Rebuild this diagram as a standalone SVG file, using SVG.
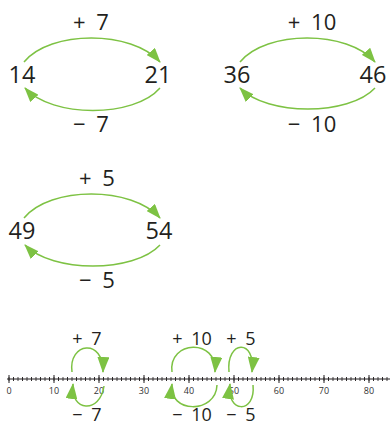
<svg xmlns="http://www.w3.org/2000/svg" width="390" height="426" viewBox="0 0 390 426">
<style>
.n{font-family:"Open Sans","Liberation Sans",sans-serif;font-size:23.5px;fill:#231f20;text-anchor:middle}
.op{font-family:"Open Sans","Liberation Sans",sans-serif;font-size:22px;fill:#231f20;text-anchor:middle;word-spacing:5px}
.sop{font-family:"Open Sans","Liberation Sans",sans-serif;font-size:18px;fill:#231f20;text-anchor:middle;word-spacing:4px}
.t{font-family:"Open Sans","Liberation Sans",sans-serif;font-size:9px;fill:#333;text-anchor:middle}
.a{fill:none;stroke:#7dc243;stroke-width:1.5}
</style>
<defs>
<marker id="ah" viewBox="0 0 15 11" refX="14" refY="5.5" markerWidth="15" markerHeight="11" markerUnits="userSpaceOnUse" orient="auto">
<path d="M0,0 L15,5.5 L0,11 Z" fill="#7dc243"/>
</marker>
<marker id="ahs" viewBox="0 0 16 12" refX="15" refY="6" markerWidth="16" markerHeight="12" markerUnits="userSpaceOnUse" orient="auto">
<path d="M0,0 L16,6 L0,12 Z" fill="#7dc243"/>
</marker>
<pattern id="minor" patternUnits="userSpaceOnUse" x="6.75" y="0" width="4.5" height="426">
<line x1="2.25" y1="377" x2="2.25" y2="381" stroke="#231f20" stroke-width="0.9"/>
</pattern>
<pattern id="major" patternUnits="userSpaceOnUse" x="-13.5" y="0" width="45" height="426">
<line x1="22.5" y1="375" x2="22.5" y2="383" stroke="#231f20" stroke-width="1"/>
</pattern>
</defs>

<g id="pair1">
<text class="op" x="91" y="30">+ 7</text>
<text class="n" x="22" y="83">14</text>
<text class="n" x="158" y="83">21</text>
<text class="op" x="91" y="132">− 7</text>
</g>
<g id="pair2">
<text class="op" x="312" y="30">+ 10</text>
<text class="n" x="237" y="83">36</text>
<text class="n" x="373" y="83">46</text>
<text class="op" x="312" y="132">− 10</text>
</g>
<g id="pair3">
<text class="op" x="97" y="186">+ 5</text>
<text class="n" x="22" y="239">49</text>
<text class="n" x="159" y="239">54</text>
<text class="op" x="97" y="288">− 5</text>
</g>

<g id="numberline">
<line x1="7" y1="379" x2="390" y2="379" stroke="#231f20" stroke-width="1"/>
<rect x="6.75" y="376" width="383" height="6" fill="url(#minor)"/>
<rect x="1" y="374" width="376" height="10" fill="url(#major)"/>
<text class="t" x="9" y="394">0</text>
<text class="t" x="54" y="394">10</text>
<text class="t" x="99" y="394">20</text>
<text class="t" x="144" y="394">30</text>
<text class="t" x="189" y="394">40</text>
<text class="t" x="234" y="394">50</text>
<text class="t" x="279" y="394">60</text>
<text class="t" x="324" y="394">70</text>
<text class="t" x="369" y="394">80</text>
<text class="sop" x="87" y="345">+ 7</text>
<text class="sop" x="87" y="421">− 7</text>
<text class="sop" x="192" y="345">+ 10</text>
<text class="sop" x="192" y="421">− 10</text>
<text class="sop" x="241" y="345">+ 5</text>
<text class="sop" x="241" y="421">− 5</text>
</g>

<g id="connectors">
<path class="a" d="M24,62 C50,30 132,30 160,62" marker-end="url(#ah)"/>
<path class="a" d="M160,88 C134,118 52,118 25,88" marker-end="url(#ah)"/>
<path class="a" d="M240,62 C266,30 348,30 375,62" marker-end="url(#ah)"/>
<path class="a" d="M375,88 C349,116 267,116 240,88" marker-end="url(#ah)"/>
<path class="a" d="M24,218 C50,186 132,186 160,218" marker-end="url(#ah)"/>
<path class="a" d="M160,245 C134,273 52,273 25,245" marker-end="url(#ah)"/>

<path class="a" d="M72,372 C68,342 104,338 103,372" marker-end="url(#ahs)"/>
<path class="a" d="M104,386 C100,414 70,412 73,384" marker-end="url(#ahs)"/>
<path class="a" d="M172,372 C168,340 218,338 215,372" marker-end="url(#ahs)"/>
<path class="a" d="M217,385 C216,414 168,414 172,384" marker-end="url(#ahs)"/>
<path class="a" d="M229,372 C226,340 256,338 252,372" marker-end="url(#ahs)"/>
<path class="a" d="M253,385 C256,414 226,414 230,384" marker-end="url(#ahs)"/>
</g>
</svg>
